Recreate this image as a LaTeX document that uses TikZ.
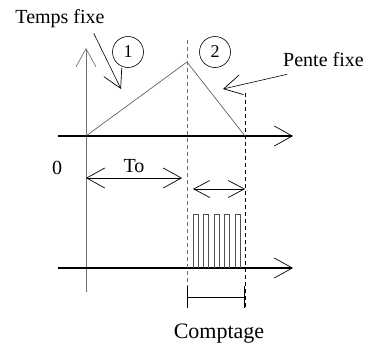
\documentclass[tikz,border=0pt]{standalone}
\usepackage{fontspec}
\setmainfont{Liberation Serif}
\usetikzlibrary{arrows.meta,positioning}
\definecolor{AxisGray}{HTML}{707070}
\definecolor{SlopeGray}{HTML}{505050}

\begin{document}
\begin{tikzpicture}[x=1pt,y=-1pt,>={Straight Barb[length=18pt,width=20pt,line width=0.7pt]},
  lbl/.style={font=\fontsize{20}{22}\selectfont,inner sep=0pt},
  num/.style={draw,circle,minimum size=31pt,inner sep=0pt,line width=0.6pt,font=\fontsize{18}{20}\selectfont},
  axis/.style={->,line width=1.3pt},
  guide/.style={line width=0.9pt,dash pattern=on 4pt off 3pt}]
\useasboundingbox (0,0) rectangle (367,349);
\coordinate (ytop) at (86,48);
\coordinate (ybot) at (86,292);
\coordinate (org) at (86,136);
\coordinate (peak) at (187,62);
\coordinate (stop) at (245,136);
\coordinate (xa) at (58,136);
\coordinate (xb) at (293,136);
\coordinate (ba) at (58,268);
\coordinate (bb) at (293,268);
\draw[AxisGray,line width=0.8pt,->] (ybot)--(ytop);
\draw[axis] (xa)--(xb);
\draw[axis] (ba)--(bb);
\draw[SlopeGray,line width=0.6pt] (org)--(peak)--(stop);
\draw[guide,AxisGray] (187,40)--(187,307);
\draw[guide] (245,93)--(245,307);
% labels
\node[lbl] (tf) at (60,19) {Temps fixe};
\node[lbl,anchor=west] (pf) at (283,60) {Pente fixe};
\node[num] (n1) at (128,52) {1};
\node[num] (n2) at (215,52) {2};
\node[lbl] (zero) at (57,168) {0};
\coordinate (tip1) at (121,89);
\coordinate (tip2) at (223,89);
\draw[->,line width=0.6pt] ([xshift=-11pt,yshift=-5pt]tf.south east)--(tip1);
\draw[->,line width=0.6pt] ([xshift=4pt,yshift=-7pt]pf.south west)--(tip2);
% durees
\coordinate (ta) at (86,178);
\coordinate (tb) at (182,178);
\draw[<->,line width=0.6pt] (ta)--node[lbl,above=5pt] (to) {To} (tb);
\coordinate (ca) at (193,189);
\coordinate (cb) at (245,189);
\draw[{Straight Barb[length=16pt,width=17pt,line width=0.7pt]}-{Straight Barb[length=16pt,width=17pt,line width=0.7pt]},line width=0.6pt] (ca)--(cb);
% impulsions
\foreach \i in {0,...,4}
  \draw[SlopeGray,line width=0.7pt] (193+\i*10.5,268)--++(0,-54)--++(5,0)--++(0,54);
\coordinate (ka) at (187,297);
\coordinate (kb) at (245,297);
\draw[{Bar[width=22pt]}-{Bar[width=22pt]},line width=0.9pt] (ka)--(kb);
\node[lbl,font=\fontsize{22}{24}\selectfont] (cpt) at (219,334) {Comptage};
\end{tikzpicture}
\end{document}
